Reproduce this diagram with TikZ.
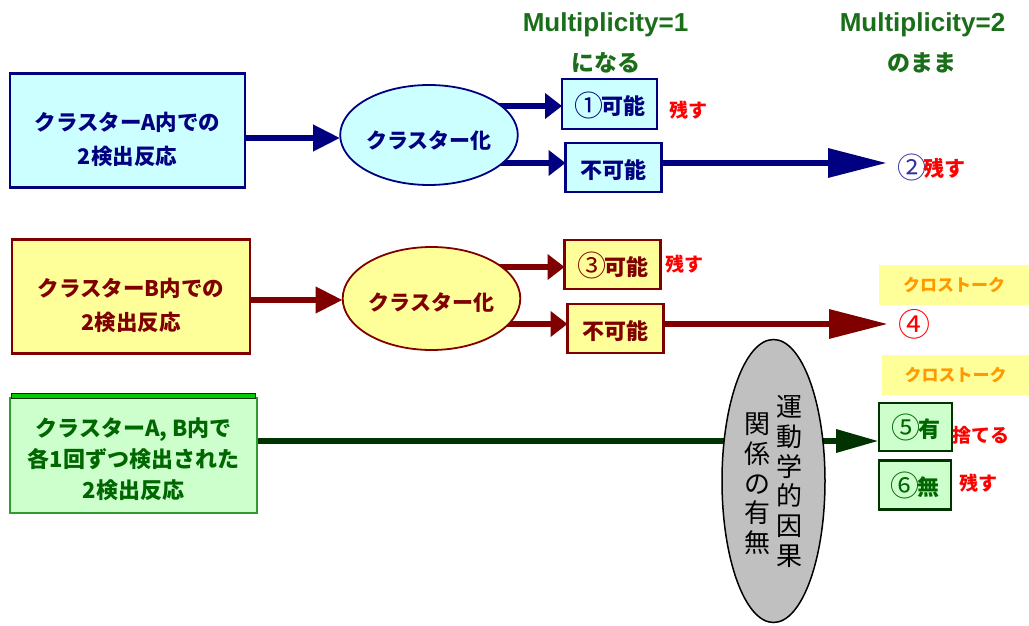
\documentclass[tikz,border=0pt]{standalone}
\usepackage{fontspec}
\setmainfont{Noto Sans CJK JP}
\newfontfamily\latinsans{Liberation Sans}
\usetikzlibrary{arrows.meta,shapes.geometric}
\pgfdeclarelayer{paper}
\pgfdeclarelayer{links}
\pgfsetlayers{paper,links,main}

\definecolor{navyA}{HTML}{000080}
\definecolor{cyanfill}{HTML}{CCFFFF}
\definecolor{maroonB}{HTML}{800000}
\definecolor{yellowfill}{HTML}{FFFF99}
\definecolor{greenfill}{HTML}{CCFFCC}
\definecolor{greenedge}{HTML}{339933}
\definecolor{greendark}{HTML}{003300}
\definecolor{greentext}{HTML}{006600}
\definecolor{bargreen}{HTML}{00CC00}
\definecolor{labelgreen}{HTML}{1A6E1A}
\definecolor{keepred}{HTML}{FF0000}
\definecolor{talkorange}{HTML}{FF9900}
\definecolor{talkfill}{HTML}{FFFF99}
\definecolor{grayfill}{HTML}{C0C0C0}
\definecolor{circblue}{HTML}{333399}

% circled numbers, set larger and lighter than the text around them
\newcommand\ringnum[2]{{\mdseries\fontsize{#1}{#1}\selectfont\raisebox{-1.5pt}{#2}}}

\begin{document}
\begin{tikzpicture}[x=1pt,y=-1pt,
  every node/.style={inner sep=0pt, outer sep=0pt},
  srcbox/.style={rectangle, line width=2.5pt, align=center, minimum height=114pt,
    font=\bfseries\fontsize{21.5pt}{34pt}\selectfont},
  clusterell/.style={ellipse, line width=1.8pt, font=\bfseries\fontsize{21pt}{21pt}\selectfont},
  resbox/.style={rectangle, line width=2.5pt, minimum width=96pt, minimum height=49pt,
    font=\bfseries\fontsize{22pt}{22pt}\selectfont},
  keeplabel/.style={text=keepred, font=\bfseries\fontsize{19pt}{19pt}\selectfont},
  multilabel/.style={text=labelgreen, font=\fontsize{26pt}{26pt}\latinsans\bfseries},
  multijp/.style={text=labelgreen, font=\bfseries\fontsize{23pt}{23pt}\selectfont},
  talkbox/.style={rectangle, fill=talkfill, text=talkorange, minimum height=40pt,
    font=\bfseries\fontsize{17pt}{17pt}\selectfont},
  vcol/.style={align=center, font=\fontsize{26pt}{29.7pt}\selectfont},
  flow/.style={line width=6.5pt},
  headtip/.style={-{Triangle[length=27pt,width=25pt]}},
  forktip/.style={-{Triangle[length=17pt,width=25pt]}},
  longtip/.style={-{Triangle[length=59pt,width=28pt]}},
  kintip/.style={-{Triangle[length=43pt,width=22pt]}}]

\useasboundingbox (0,0) rectangle (1029,626);
\begin{pgfonlayer}{paper}
  \fill[white] (0,0) rectangle (1029,626);
\end{pgfonlayer}

% column headers
\node[multilabel] (m1) at (605.5,25) {Multiplicity=1};
\node[multijp] (m1b) at (606,63) {になる};
\node[multilabel] (m2) at (922.5,25) {Multiplicity=2};
\node[multijp] (m2b) at (922,63) {のまま};

% row A: both detections inside cluster A
\node[srcbox, draw=navyA, fill=cyanfill, text=navyA, minimum width=235pt] (srcA)
  at (127.5,130.5) {\rule{0pt}{37pt}クラスターA内での\\2検出反応};
\node[clusterell, draw=navyA, fill=cyanfill, text=navyA, minimum width=168pt, minimum height=100pt] (clA)
  at (429,135) {\rule{0pt}{28pt}クラスター化};
\node[resbox, draw=navyA, fill=cyanfill, text=navyA, minimum width=95pt, minimum height=50pt] (okA)
  at (609.5,104) {\rule{0pt}{25pt}\ringnum{29pt}{①}\hspace{-2pt}可能};
\node[resbox, draw=navyA, fill=cyanfill, text=navyA] (ngA)
  at (613.5,167.5) {\rule{0pt}{25pt}不可能};
\node[keeplabel] (keepA) at (688,110) {残す};
\coordinate (endA) at (887,163);
\node[font=\bfseries\fontsize{21pt}{21pt}\selectfont] (twoA) at (931,167)
  {\textcolor{circblue}{\ringnum{29pt}{②}}\hspace{-3pt}\textcolor{keepred}{残す}};

% row B: both detections inside cluster B
\node[srcbox, draw=maroonB, fill=yellowfill, text=maroonB, minimum width=238pt] (srcB)
  at (131,296.5) {\rule{0pt}{37pt}クラスターB内での\\2検出反応};
\node[clusterell, draw=maroonB, fill=yellowfill, text=maroonB, minimum width=167pt, minimum height=103pt] (clB)
  at (431.5,298.5) {\rule{0pt}{26pt}クラスター化};
\node[resbox, draw=maroonB, fill=yellowfill, text=maroonB] (okB)
  at (612.5,264.5) {\rule{0pt}{25pt}\ringnum{29pt}{③}\hspace{-2pt}可能};
\node[resbox, draw=maroonB, fill=yellowfill, text=maroonB] (ngB)
  at (615.5,328.5) {\rule{0pt}{25pt}不可能};
\node[keeplabel] (keepB) at (684.5,264) {残す};
\node[talkbox, minimum width=150pt] (talk1) at (954,285) {クロストーク};
\node[text=keepred, font=\fontsize{32pt}{32pt}\selectfont] (four) at (914.5,324) {④};
\coordinate (endB) at (888,324);

% row C: one detection in each cluster
\node[srcbox, draw=greenedge, line width=2pt, fill=greenfill, text=greentext,
  minimum width=247pt, minimum height=115pt, font=\bfseries\fontsize{22pt}{31pt}\selectfont] (srcC)
  at (133.5,455.5) {\rule{0pt}{26pt}クラスターA, B内で\\各1回ずつ検出された\\2検出反応};
\filldraw[fill=bargreen, draw=greendark, line width=0.8pt]
  ([xshift=1.5pt,yshift=5pt]srcC.north west) rectangle ([xshift=-2pt]srcC.north east);
\node[ellipse, draw=black, line width=1.5pt, fill=grayfill, minimum width=103pt, minimum height=283pt] (kin)
  at (773.5,481) {};
\node[vcol] (kinR) at (789,481.5) {運\\動\\学\\的\\因\\果};
\node[vcol] (kinL) at (757,484) {関\\係\\の\\有\\無};
\node[talkbox, minimum width=147pt] (talk2) at (955.5,375) {クロストーク};
\node[resbox, draw=greendark, fill=greenfill, text=greentext, minimum width=73pt, minimum height=48pt] (yes)
  at (915.5,427) {\rule{0pt}{24pt}\ringnum{29pt}{⑤}\hspace{-2pt}有};
\node[resbox, draw=greendark, fill=greenfill, text=greentext, minimum width=72pt, minimum height=49pt] (no)
  at (915,485) {\rule{0pt}{24pt}\ringnum{29pt}{⑥}\hspace{-2pt}無};
\node[keeplabel] (discard) at (980.5,435) {捨てる};
\node[keeplabel] (keepC) at (978,483) {残す};

% connectors, kept behind the shapes
\begin{pgfonlayer}{links}
  \draw[navyA, flow, headtip] (srcA.east |- 0,138) -- (clA.west |- 0,138);
  \draw[navyA, flow, forktip] (clA.center |- 0,106) -- (okA.west |- 0,106);
  \draw[navyA, flow, forktip] (clA.center |- 0,163) -- (ngA.west |- 0,163);
  \draw[navyA, flow, longtip] (ngA.east |- 0,163) -- (endA);

  \draw[maroonB, flow, headtip] (srcB.east |- 0,300) -- (clB.west |- 0,300);
  \draw[maroonB, flow, forktip] (clB.center |- 0,267) -- (okB.west |- 0,267);
  \draw[maroonB, flow, forktip] (clB.center |- 0,324) -- (ngB.west |- 0,324);
  \draw[maroonB, flow, longtip] (ngB.east |- 0,324) -- (endB);

  \draw[greendark, flow, kintip] (srcC.east |- 0,441) -- (yes.west |- 0,441);
\end{pgfonlayer}
\end{tikzpicture}
\end{document}
